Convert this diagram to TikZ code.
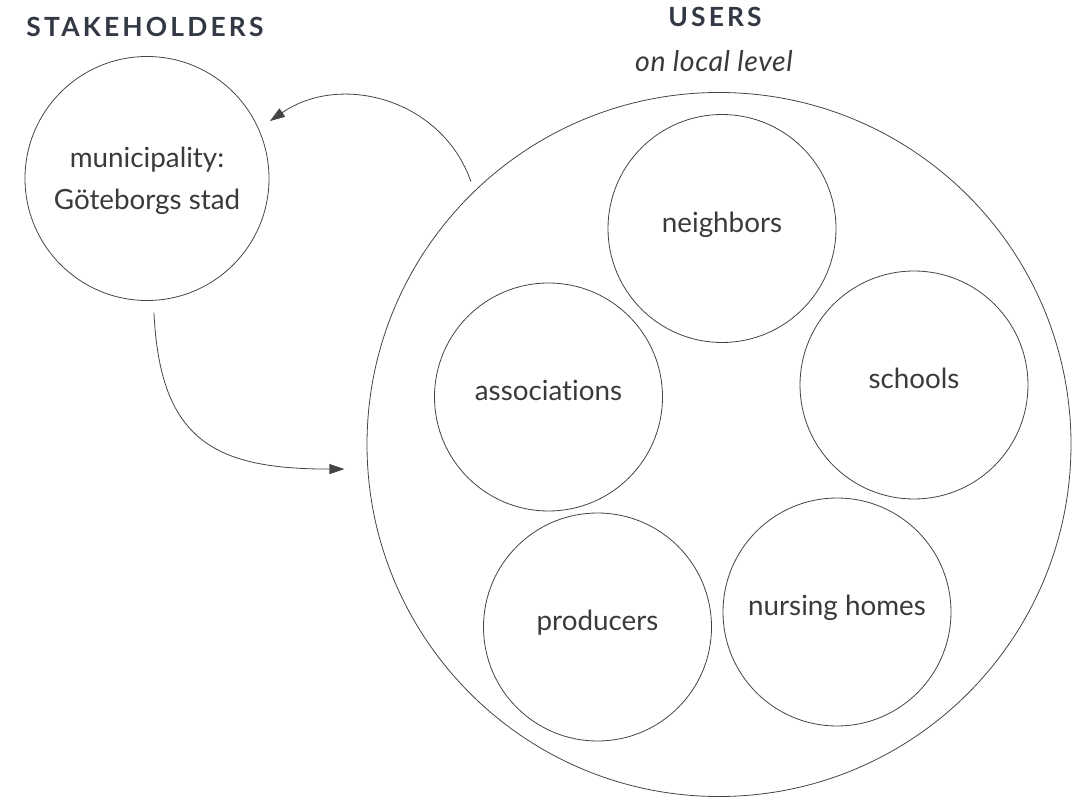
\documentclass[tikz,border=0pt]{standalone}
\usepackage{fontspec}
\setmainfont{Lato}[Ligatures=NoCommon]
\usetikzlibrary{arrows.meta}
\definecolor{titlecol}{HTML}{333944}
\definecolor{txtcol}{HTML}{3a3a3a}
\definecolor{linecol}{HTML}{444444}
\tikzset{
  ring/.style={circle, draw=linecol, line width=0.8pt, inner sep=0pt, text=txtcol,
    font=\fontsize{27.8}{32}\selectfont, text height=0.78em, text depth=0pt},
  title/.style={anchor=base, text=titlecol, font=\fontsize{26.4}{30}\selectfont\bfseries\addfontfeatures{LetterSpace=12}},
  subtitle/.style={anchor=base, text=txtcol, font=\fontsize{28.5}{32}\selectfont\itshape\addfontfeatures{LetterSpace=2}},
  body/.style={anchor=base, text=txtcol, font=\fontsize{27.8}{32}\selectfont},
  link/.style={draw=linecol, line width=0.8pt, -{Triangle[length=15pt,width=10pt]}},
}
\begin{document}
\begin{tikzpicture}[x=1pt,y=-1pt]
\useasboundingbox (0,0) rectangle (1074,799);
\node[title] (t1) at (145,37) {STAKEHOLDERS};
\node[title] (t2) at (715,27) {USERS};
\node[subtitle] (t3) at (714,72) {on local level};

\node[ring, minimum size=244pt] (mun) at (147,178.5) {};
\node[body] (mun1) at (147,168) {municipality:};
\node[body] (mun2) at (147,210) {Göteborgs stad};

\node[ring, minimum size=704pt] (users) at (719,444.5) {};
\node[ring, minimum size=228pt] (neigh) at (722,228.5) {neighbors};
\node[ring, minimum size=228pt] (assoc) at (548.5,397) {associations};
\node[ring, minimum size=228pt] (school) at (914,385) {schools};
\node[ring, minimum size=228pt] (prod) at (597.5,627) {producers};
\node[ring, minimum size=228pt] (nurse) at (837,612) {nursing homes};

\draw[link, shorten <=10pt, shorten >=13.5pt] (users.134.7) .. controls +(-31.9,-91.4) and +(82.6,-56.8) .. (mun.24.65);
\draw[link, shorten <=12pt, shorten >=23pt] (mun.-87) .. controls +(6.6,140) and +(-153,0) .. (users.184.6);
\end{tikzpicture}
\end{document}
